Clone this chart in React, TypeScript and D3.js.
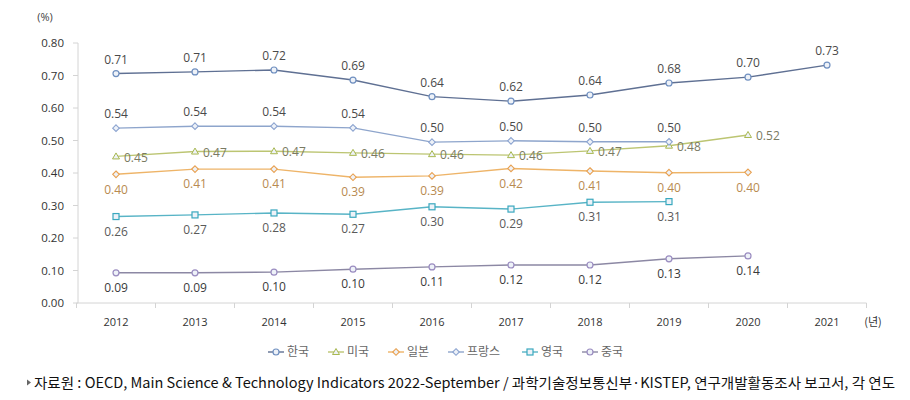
import React from "react";
import * as d3 from "d3";

const years = [2012, 2013, 2014, 2015, 2016, 2017, 2018, 2019, 2020, 2021];
const yTicks = [0, 0.1, 0.2, 0.3, 0.4, 0.5, 0.6, 0.7, 0.8];

const korea = [0.706, 0.711, 0.717, 0.686, 0.635, 0.621, 0.640, 0.677, 0.695, 0.732];
const koreaLabels = ["0.71", "0.71", "0.72", "0.69", "0.64", "0.62", "0.64", "0.68", "0.70", "0.73"];
const usa = [0.451, 0.466, 0.467, 0.462, 0.458, 0.455, 0.468, 0.484, 0.517];
const usaLabels = ["0.45", "0.47", "0.47", "0.46", "0.46", "0.46", "0.47", "0.48", "0.52"];
const japan = [0.396, 0.412, 0.412, 0.387, 0.391, 0.414, 0.406, 0.401, 0.402];
const japanLabels = ["0.40", "0.41", "0.41", "0.39", "0.39", "0.42", "0.41", "0.40", "0.40"];
const france = [0.538, 0.544, 0.544, 0.539, 0.495, 0.499, 0.496, 0.496];
const franceLabels = ["0.54", "0.54", "0.54", "0.54", "0.50", "0.50", "0.50", "0.50"];
const uk = [0.266, 0.271, 0.277, 0.273, 0.296, 0.289, 0.310, 0.312];
const ukLabels = ["0.26", "0.27", "0.28", "0.27", "0.30", "0.29", "0.31", "0.31"];
const china = [0.093, 0.093, 0.095, 0.104, 0.111, 0.117, 0.117, 0.136, 0.145];
const chinaLabels = ["0.09", "0.09", "0.10", "0.10", "0.11", "0.12", "0.12", "0.13", "0.14"];

type Series = {
  name: string;
  values: number[];
  labels: string[];
  line: string;
  marker: string;
  shape: "circle" | "triangle" | "square" | "diamond";
  pos: "above" | "below" | "right";
  text: string;
};

const series: Series[] = [
  { name: "한국", values: korea, labels: koreaLabels, line: "#5f7093", marker: "#7090c0", shape: "circle", pos: "above", text: "#4a4a4a" },
  { name: "미국", values: usa, labels: usaLabels, line: "#bcc572", marker: "#a8b850", shape: "triangle", pos: "right", text: "#7a7a62" },
  { name: "일본", values: japan, labels: japanLabels, line: "#eeb468", marker: "#e8a050", shape: "diamond", pos: "below", text: "#b88a50" },
  { name: "프랑스", values: france, labels: franceLabels, line: "#8ea5cc", marker: "#8ca4d0", shape: "diamond", pos: "above", text: "#4a4a4a" },
  { name: "영국", values: uk, labels: ukLabels, line: "#58b4c6", marker: "#3aa8bf", shape: "square", pos: "below", text: "#5a5a5a" },
  { name: "중국", values: china, labels: chinaLabels, line: "#8c88a4", marker: "#9a8cc0", shape: "circle", pos: "below", text: "#3a3a3a" },
];

const W = 910;
const H = 400;

function Marker({ shape, x, y, color }: { shape: string; x: number; y: number; color: string }) {
  const fill = "#eef2f8";
  if (shape === "circle")
    return <circle cx={x} cy={y} r={3} fill={fill} stroke={color} strokeWidth={1.2} />;
  if (shape === "square")
    return <rect x={x - 3} y={y - 3} width={6} height={6} fill={fill} stroke={color} strokeWidth={1.2} />;
  if (shape === "triangle")
    return <path d={`M${x},${y - 3.5}L${x + 3.5},${y + 2.5}L${x - 3.5},${y + 2.5}Z`} fill={fill} stroke={color} strokeWidth={1} />;
  return <path d={`M${x},${y - 3.3}L${x + 3.3},${y}L${x},${y + 3.3}L${x - 3.3},${y}Z`} fill={fill} stroke={color} strokeWidth={1.1} />;
}

export default function App() {
  const x = d3.scaleBand<number>().domain(years).range([76.5, 866.5]);
  const cx = (yr: number) => (x(yr) as number) + x.bandwidth() / 2;
  const y = d3.scaleLinear().domain([0, 0.8]).range([303, 43]);
  const line = d3
    .line<number>()
    .x((_, i) => cx(years[i]))
    .y((d) => y(d));

  const axisColor = "#d4d4d4";
  const tickFont = "'Open Sans', 'Noto Sans', sans-serif";

  let legendX = 268;
  const legendItems = series.map((s) => {
    const item = { s, x: legendX };
    legendX += 32 + 14 * s.name.length;
    return item;
  });

  return (
    <svg width={W} height={H} style={{ position: "absolute", left: 0, top: 0, background: "#fff" }}>
      <rect width={W} height={H} fill="#fff" />
      <text x={45} y={21} fontSize={11} fill="#444" fontFamily={tickFont} textAnchor="middle">(%)</text>

      {/* y axis */}
      <line x1={78} x2={78} y1={y(0.8)} y2={y(0)} stroke={axisColor} />
      {yTicks.map((t) => (
        <g key={t}>
          <line x1={73} x2={78} y1={y(t)} y2={y(t)} stroke={axisColor} />
          <text x={64} y={y(t)} dy="0.35em" fontSize={11.5} fill="#333" fontFamily={tickFont} textAnchor="end">
            {t.toFixed(2)}
          </text>
        </g>
      ))}

      {/* x axis */}
      <line x1={76.5} x2={866.5} y1={y(0)} y2={y(0)} stroke={axisColor} />
      {years.map((yr) => (
        <line key={"t" + yr} x1={x(yr) as number} x2={x(yr) as number} y1={y(0)} y2={y(0) + 5} stroke={axisColor} />
      ))}
      <line x1={866.5} x2={866.5} y1={y(0)} y2={y(0) + 5} stroke={axisColor} />
      {years.map((yr) => (
        <text key={"l" + yr} x={cx(yr)} y={322} dy="0.35em" fontSize={11} fill="#333" fontFamily={tickFont} textAnchor="middle">
          {yr}
        </text>
      ))}
      <text x={873} y={322} dy="0.35em" fontSize={11} fill="#333" fontFamily="'Noto Sans CJK KR', sans-serif" textAnchor="middle">(년)</text>

      {/* series */}
      {series.map((s) => (
        <g key={s.name}>
          <path d={line(s.values) || ""} fill="none" stroke={s.line} strokeWidth={1.4} />
          {s.values.map((v, i) => (
            <Marker key={i} shape={s.shape} x={cx(years[i])} y={y(v)} color={s.marker} />
          ))}
          {s.values.map((v, i) => {
            const px = cx(years[i]);
            const py = y(v);
            let tx = px;
            let ty = py;
            let anchor: "middle" | "start" = "middle";
            if (s.pos === "above") ty = py - 14;
            else if (s.pos === "below") ty = py + 15;
            else {
              tx = px + 8;
              ty = py + 1;
              anchor = "start";
            }
            return (
              <text key={"lb" + i} x={tx} y={ty} dy="0.35em" fontSize={12} fill={s.text} fontFamily={tickFont} textAnchor={anchor}>
                {s.labels[i]}
              </text>
            );
          })}
        </g>
      ))}

      {/* legend */}
      {legendItems.map(({ s, x: lx }) => (
        <g key={"lg" + s.name}>
          <line x1={lx} x2={lx + 16} y1={352} y2={352} stroke={s.line} strokeWidth={1.4} />
          <Marker shape={s.shape} x={lx + 8} y={352} color={s.marker} />
          <text x={lx + 19} y={352} dy="0.35em" fontSize={12} fill="#666" fontFamily="'Noto Sans CJK KR', sans-serif">
            {s.name}
          </text>
        </g>
      ))}

      {/* source */}
      <path d="M27,379.5L31,382.5L27,385.5Z" fill="#666" />
      <text
        x={34}
        y={383}
        dy="0.35em"
        fontSize={14}
        fontWeight={400}
        fill="#111"
        fontFamily="'Noto Sans CJK KR', sans-serif"
        textLength={861}
        lengthAdjust="spacingAndGlyphs"
      >
        자료원 : OECD, Main Science &amp; Technology Indicators 2022-September / 과학기술정보통신부·KISTEP, 연구개발활동조사 보고서, 각 연도
      </text>
    </svg>
  );
}
